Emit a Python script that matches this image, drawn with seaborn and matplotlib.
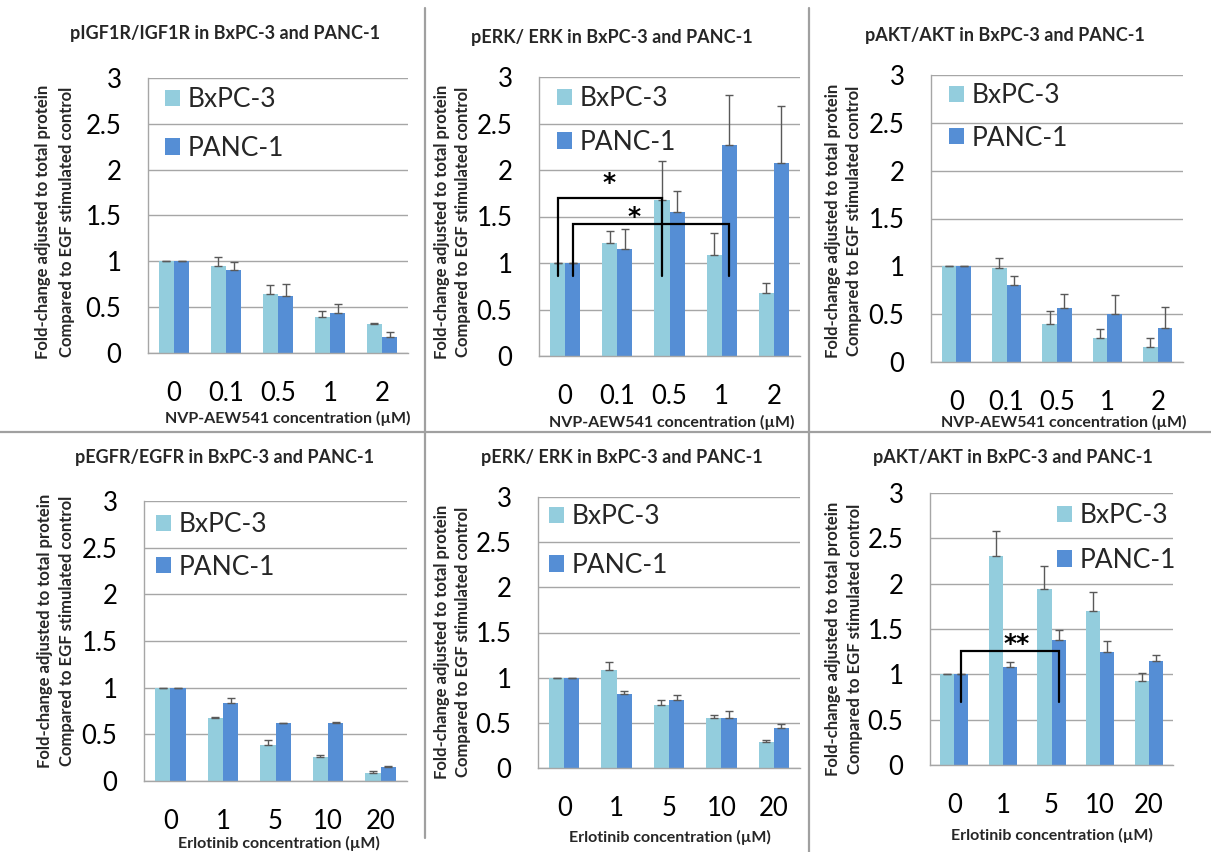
import matplotlib
matplotlib.use("Agg")
import matplotlib.pyplot as plt
from matplotlib.lines import Line2D
import seaborn as sns
import pandas as pd

# ---- data -------------------------------------------------------------
lines = ["BxPC-3", "PANC-1"]
nvp_conc = ["0", "0.1", "0.5", "1", "2"]
erl_conc = ["0", "1", "5", "10", "20"]

igf1r_bx = [1.00, 0.95, 0.64, 0.39, 0.32]
igf1r_bx_err = [0.0, 0.10, 0.10, 0.07, 0.01]
igf1r_pa = [1.00, 0.91, 0.62, 0.44, 0.17]
igf1r_pa_err = [0.0, 0.08, 0.13, 0.09, 0.06]

erk_nvp_bx = [1.00, 1.22, 1.68, 1.09, 0.68]
erk_nvp_bx_err = [0.0, 0.12, 0.42, 0.23, 0.10]
erk_nvp_pa = [1.00, 1.15, 1.55, 2.27, 2.08]
erk_nvp_pa_err = [0.0, 0.22, 0.22, 0.54, 0.61]

akt_nvp_bx = [1.00, 0.98, 0.40, 0.25, 0.16]
akt_nvp_bx_err = [0.0, 0.11, 0.13, 0.09, 0.09]
akt_nvp_pa = [1.00, 0.81, 0.56, 0.50, 0.36]
akt_nvp_pa_err = [0.0, 0.085, 0.15, 0.20, 0.21]

egfr_bx = [1.00, 0.68, 0.39, 0.26, 0.09]
egfr_bx_err = [0.0, 0.01, 0.05, 0.02, 0.02]
egfr_pa = [1.00, 0.84, 0.62, 0.62, 0.15]
egfr_pa_err = [0.0, 0.05, 0.005, 0.01, 0.015]

erk_erl_bx = [1.00, 1.09, 0.70, 0.55, 0.29]
erk_erl_bx_err = [0.0, 0.08, 0.055, 0.04, 0.02]
erk_erl_pa = [1.00, 0.82, 0.75, 0.55, 0.44]
erk_erl_pa_err = [0.0, 0.03, 0.06, 0.08, 0.05]

akt_erl_bx = [1.00, 2.30, 1.94, 1.70, 0.93]
akt_erl_bx_err = [0.0, 0.28, 0.25, 0.21, 0.085]
akt_erl_pa = [1.00, 1.08, 1.38, 1.25, 1.15]
akt_erl_pa_err = [0.0, 0.055, 0.11, 0.115, 0.065]

titles = ["pIGF1R/IGF1R in BxPC-3 and PANC-1",
          "pERK/ ERK in BxPC-3 and PANC-1",
          "pAKT/AKT in BxPC-3 and PANC-1",
          "pEGFR/EGFR in BxPC-3 and PANC-1",
          "pERK/ ERK in BxPC-3 and PANC-1",
          "pAKT/AKT in BxPC-3 and PANC-1"]
ylabel1 = "Fold-change adjusted to total protein"
ylabel2 = "Compared to EGF stimulated control"
xlabel_nvp = "NVP-AEW541 concentration (\u00b5M)"
xlabel_erl = "Erlotinib concentration (\u00b5M)"

# ---- style ------------------------------------------------------------
sns.set_style("white")
plt.rcParams["font.family"] = ["Lato", "DejaVu Sans"]

W, H = 1211, 852
C_BX = "#93CDDD"
C_PA = "#558ED5"
GRID = "#A6A6A6"
ERR = "#595959"
TICK_FS = 18.5
LEG_FS = 19

fig = plt.figure(figsize=(W / 100, H / 100), dpi=100)


def fx(x):
    return x / W


def fy(y):
    return 1 - y / H


# panel layout in pixels: axes box, title, y-label line positions, x-title, legend
panels = [
    dict(box=(148, 408, 78, 353), title=(225, 34), yl=(43, 67, 222), xt=(288, 418),
         leg=(165, 87, 0.90), conc=nvp_conc, bx=(igf1r_bx, igf1r_bx_err),
         pa=(igf1r_pa, igf1r_pa_err), xlabel=xlabel_nvp, brackets=[]),
    dict(box=(539, 800, 77, 356), title=(612, 37), yl=(442, 463, 222), xt=(672, 422),
         leg=(557, 86, 0.71), conc=nvp_conc, bx=(erk_nvp_bx, erk_nvp_bx_err),
         pa=(erk_nvp_pa, erk_nvp_pa_err), xlabel=xlabel_nvp,
         brackets=[(0, 0, 0, 2, 1.70, 0.86, "*", 0.84, 1.86),
                   (1, 0, 1, 3, 1.42, 0.86, "*", 1.32, 1.50)]),
    dict(box=(931, 1183, 75, 362), title=(1005, 35), yl=(833, 854, 221), xt=(1064, 422),
         leg=(949, 83, 0.67), conc=nvp_conc, bx=(akt_nvp_bx, akt_nvp_bx_err),
         pa=(akt_nvp_pa, akt_nvp_pa_err), xlabel=xlabel_nvp, brackets=[]),
    dict(box=(144, 407, 501, 781), title=(225, 457), yl=(45, 67, 631), xt=(279, 843),
         leg=(156, 512, 0.67), conc=erl_conc, bx=(egfr_bx, egfr_bx_err),
         pa=(egfr_pa, egfr_pa_err), xlabel=xlabel_erl, brackets=[]),
    dict(box=(538, 800, 497, 768), title=(622, 458), yl=(442, 463, 642), xt=(670, 837),
         leg=(549, 504, 0.90), conc=erl_conc, bx=(erk_erl_bx, erk_erl_bx_err),
         pa=(erk_erl_pa, erk_erl_pa_err), xlabel=xlabel_erl, brackets=[]),
    dict(box=(930, 1173, 493, 765), title=(1013, 458), yl=(833, 855, 639), xt=(1052, 835),
         leg=(1057, 503, 0.75), conc=erl_conc, bx=(akt_erl_bx, akt_erl_bx_err),
         pa=(akt_erl_pa, akt_erl_pa_err), xlabel=xlabel_erl,
         brackets=[(1, 0, 1, 2, 1.26, 0.70, "**", 1.29, 1.34)]),
]

for p, title in zip(panels, titles):
    l, r, t, b = p["box"]
    ax = fig.add_axes([fx(l), fy(b), (r - l) / W, (b - t) / H])

    df = pd.DataFrame({
        "conc": p["conc"] * 2,
        "line": [lines[0]] * 5 + [lines[1]] * 5,
        "value": list(p["bx"][0]) + list(p["pa"][0]),
    })
    sns.barplot(data=df, x="conc", y="value", hue="line", order=p["conc"],
                hue_order=lines, palette=[C_BX, C_PA], width=0.58,
                saturation=1, errorbar=None, linewidth=0, ax=ax)

    # upper error bars on every bar
    centers = []
    for cont, (vals, errs) in zip(ax.containers, [p["bx"], p["pa"]]):
        xs = [bar.get_x() + bar.get_width() / 2 for bar in cont]
        centers.append(xs)
        ax.errorbar(xs, vals, yerr=[[0] * len(errs), errs], fmt="none",
                    ecolor=ERR, elinewidth=1.0, capsize=2.6, capthick=1.0, zorder=3)

    # significance brackets
    for sa, ia, sb, ib, top, low, lab, lx, ly in p["brackets"]:
        xa = centers[sa][ia]
        xb = centers[sb][ib]
        ax.plot([xa, xa, xb, xb], [low, top, top, low], color="black", lw=1.6,
                solid_joinstyle="miter", zorder=4)
        ax.text(lx, ly, lab, ha="center", va="center", fontsize=18,
                fontweight="bold", family="DejaVu Sans", color="black", zorder=5)

    ax.set_ylim(0, 3)
    ax.set_xlim(-0.5, 4.5)
    ax.set_yticks([0, 0.5, 1, 1.5, 2, 2.5, 3])
    ax.set_yticklabels(["0", "0.5", "1", "1.5", "2", "2.5", "3"])
    ax.yaxis.grid(True, color=GRID, lw=1.0)
    ax.xaxis.grid(False)
    ax.set_axisbelow(True)
    for side in ["top", "right"]:
        ax.spines[side].set_visible(False)
    for side in ["left", "bottom"]:
        ax.spines[side].set_color(GRID)
        ax.spines[side].set_linewidth(1.0)
    ax.tick_params(axis="both", length=0, labelsize=TICK_FS, colors="#000000")
    ax.tick_params(axis="y", pad=19)
    ax.tick_params(axis="x", pad=20)
    ax.set_xlabel("")
    ax.set_ylabel("")

    handles, labels = ax.get_legend_handles_labels()
    lx0, ly0, spacing = p["leg"]
    ax.legend(handles, labels, loc="upper left",
              bbox_to_anchor=(fx(lx0), fy(ly0)), bbox_transform=fig.transFigure,
              frameon=False, fontsize=LEG_FS, handlelength=0.57, handleheight=0.57,
              handletextpad=0.3, labelspacing=spacing, borderpad=0, borderaxespad=0)

    # titles and axis captions
    tx, ty = p["title"]
    fig.text(fx(tx), fy(ty), title, ha="center", va="center", fontsize=13,
             fontweight="bold")
    y1x, y2x, ymid = p["yl"]
    fig.text(fx(y1x), fy(ymid), ylabel1, rotation=90, ha="center", va="center",
             fontsize=12, fontweight="bold")
    fig.text(fx(y2x), fy(ymid), ylabel2, rotation=90, ha="center", va="center",
             fontsize=12, fontweight="bold")
    xtx, xty = p["xt"]
    fig.text(fx(xtx), fy(xty), p["xlabel"], ha="center", va="center", fontsize=11.5,
             fontweight="bold")

# panel separators
SEP = "#A0A0A0"
fig.add_artist(Line2D([fx(425), fx(425)], [fy(8), fy(838)], color=SEP, lw=1.6))
fig.add_artist(Line2D([fx(809), fx(809)], [fy(8), fy(852)], color=SEP, lw=1.6))
fig.add_artist(Line2D([0, 1], [fy(432), fy(432)], color=SEP, lw=1.6))

fig.savefig("out.png", dpi=100)
